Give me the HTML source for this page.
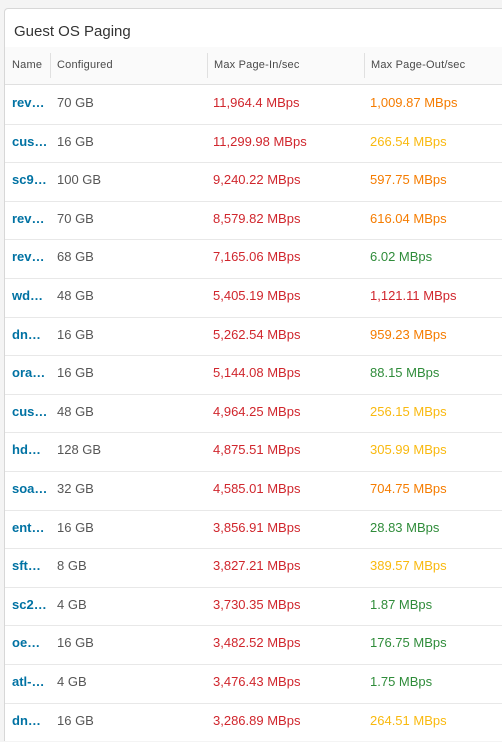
<!DOCTYPE html>
<html><head><meta charset="utf-8"><style>
html,body{margin:0;padding:0;width:502px;height:742px;overflow:hidden;background:#f4f4f4;font-family:"Liberation Sans",sans-serif;}
.card{position:absolute;left:4px;top:8px;width:520px;height:732px;background:#fff;border:1px solid #d7d7d7;border-bottom:none;border-radius:4px 4px 0 0;overflow:hidden;}
.title{position:absolute;left:9px;top:14px;font-size:15px;color:#333;}
.hdr{position:absolute;left:0;top:38px;width:520px;height:37px;background:#fafafa;border-bottom:1px solid #e0e0e0;}
.hdr span{position:absolute;top:12px;font-size:11px;color:#4a4a4a;letter-spacing:0.2px;}
.sep{position:absolute;top:6px;width:1px;height:25px;background:#e0e0e0;}
.row{position:absolute;left:0;width:520px;height:38.6px;border-bottom:1px solid #e8e8e8;font-size:13px;}
.row span{position:absolute;top:10px;}
.nm{color:#0072a3;font-weight:bold;}
.cf{color:#565656;}
.red{color:#d0262d}.orange{color:#f57c00}.yellow{color:#f9b90f}.green{color:#2f8c3a}
</style></head><body>
<div class="card">
<div class="title">Guest OS Paging</div>
<div class="hdr">
<span style="left:7px">Name</span>
<div class="sep" style="left:45px"></div>
<span style="left:52px">Configured</span>
<div class="sep" style="left:202px"></div>
<span style="left:209px">Max Page-In/sec</span>
<div class="sep" style="left:359px"></div>
<span style="left:366px">Max Page-Out/sec</span>
</div>
<div id="rows"></div>
</div>
<script>
const names=["rev…","cus…","sc9…","rev…","rev…","wd…","dn…","ora…","cus…","hd…","soa…","ent…","sft…","sc2…","oe…","atl-…","dn…"];
const configured=["70 GB","16 GB","100 GB","70 GB","68 GB","48 GB","16 GB","16 GB","48 GB","128 GB","32 GB","16 GB","8 GB","4 GB","16 GB","4 GB","16 GB"];
const pageIn=["11,964.4","11,299.98","9,240.22","8,579.82","7,165.06","5,405.19","5,262.54","5,144.08","4,964.25","4,875.51","4,585.01","3,856.91","3,827.21","3,730.35","3,482.52","3,476.43","3,286.89"];
const pageOut=["1,009.87","266.54","597.75","616.04","6.02","1,121.11","959.23","88.15","256.15","305.99","704.75","28.83","389.57","1.87","176.75","1.75","264.51"];
const outColor=["orange","yellow","orange","orange","green","red","orange","green","yellow","yellow","orange","green","yellow","green","green","green","yellow"];
const c=document.getElementById('rows');
names.forEach((n,i)=>{
 const r=document.createElement('div');
 r.className='row';
 r.style.top=(76+i*38.6)+'px';
 
 
 r.innerHTML='<span class="nm" style="left:7px">'+n+'</span>'+
 '<span class="cf" style="left:52px">'+configured[i]+'</span>'+
 '<span class="red" style="left:208px">'+pageIn[i]+' MBps</span>'+
 '<span class="'+outColor[i]+'" style="left:365px">'+pageOut[i]+' MBps</span>';
 c.appendChild(r);
});
</script>
</body></html>
